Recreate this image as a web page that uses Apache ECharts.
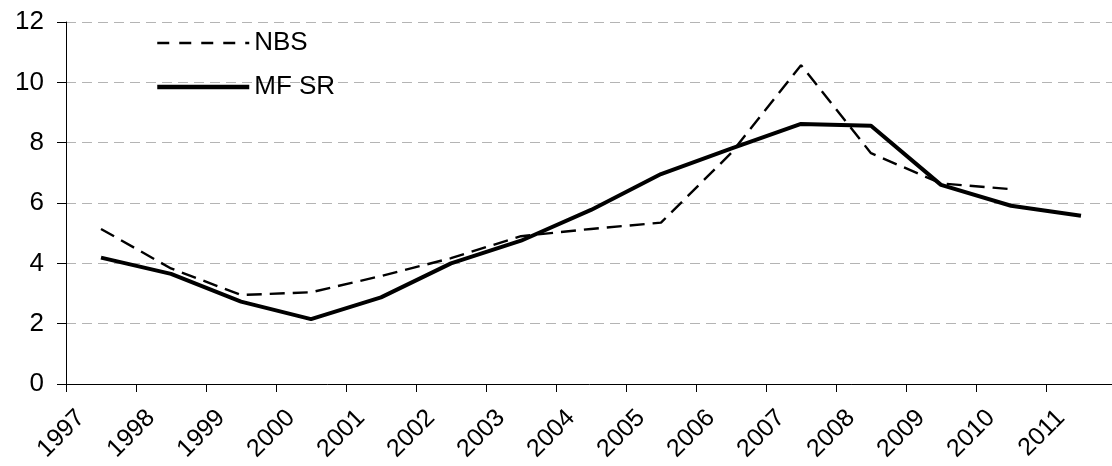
<!DOCTYPE html>
<html>
<head>
<meta charset="utf-8">
<script src="https://cdn.jsdelivr.net/npm/echarts@6/dist/echarts.min.js"></script>
<style>
html,body{margin:0;padding:0;background:#fff;}
#chart{width:1112px;height:466px;}
</style>
</head>
<body>
<div id="chart"></div>
<script>
var years = ['1997','1998','1999','2000','2001','2002','2003','2004','2005','2006','2007','2008','2009','2010','2011'];
var nbs  = [5.14, 3.83, 2.95, 3.04, 3.58, 4.17, 4.90, 5.14, 5.35, 7.65, 10.57, 7.65, 6.65, 6.46, null];
var mfsr = [4.19, 3.65, 2.73, 2.15, 2.87, 4.00, 4.75, 5.77, 6.96, 7.80, 8.62, 8.56, 6.60, 5.91, 5.58];
var yTicks = {min: 0, max: 12, interval: 2};

var FONT = "'Liberation Sans', Arial, sans-serif";
var chart = echarts.init(document.getElementById('chart'));
chart.setOption({
  animation: false,
  backgroundColor: '#fff',
  textStyle: {fontFamily: FONT},
  grid: [
    {left: 66, top: 22, width: 1050, height: 362, outerBoundsMode: 'none', containLabel: false},
    {left: 46, top: 22, width: 1050, height: 362, outerBoundsMode: 'none', containLabel: false}
  ],
  legend: {
    orient: 'vertical', left: 155, top: 30, padding: 0,
    itemWidth: 92, itemHeight: 2, itemGap: 18,
    itemStyle: {opacity: 0},
    textStyle: {fontSize: 26, color: '#000', fontFamily: FONT},
    data: [
      {name: 'NBS', lineStyle: {width: 2.4, color: '#000', type: [12, 10]}},
      {name: 'MF SR', lineStyle: {width: 4.5, color: '#000', type: 'solid'}}
    ]
  },
  xAxis: [
    {
      type: 'category', gridIndex: 0, data: years, boundaryGap: true,
      axisLine: {show: true, lineStyle: {color: '#000', width: 1}},
      axisTick: {show: true, length: 8, lineStyle: {color: '#000', width: 1}},
      axisLabel: {show: false},
      splitLine: {show: false}
    },
    {
      type: 'category', gridIndex: 1, data: years, boundaryGap: true,
      axisLine: {show: false}, axisTick: {show: false},
      axisLabel: {show: true, interval: 0, rotate: 45, margin: 30, fontSize: 25, color: '#000', fontFamily: FONT, hideOverlap: false},
      splitLine: {show: false}
    }
  ],
  yAxis: [
    {
      type: 'value', gridIndex: 0, min: yTicks.min, max: yTicks.max, interval: yTicks.interval,
      axisLine: {show: true, lineStyle: {color: '#000', width: 1}},
      axisTick: {show: true, length: 9, lineStyle: {color: '#000', width: 1}},
      axisLabel: {fontSize: 26, margin: 22, color: '#000', fontFamily: FONT},
      splitLine: {show: true, lineStyle: {color: '#b4b4b4', width: 1, type: [10, 6]}}
    },
    {type: 'value', gridIndex: 1, min: yTicks.min, max: yTicks.max, show: false}
  ],
  series: [
    {
      name: 'MF SR', type: 'line', xAxisIndex: 0, yAxisIndex: 0, data: mfsr,
      symbol: 'none', smooth: false,
      lineStyle: {color: '#000', width: 4},
      itemStyle: {color: '#000'}, z: 2
    },
    {
      name: 'NBS', type: 'line', xAxisIndex: 0, yAxisIndex: 0, data: nbs,
      symbol: 'none', smooth: false, connectNulls: false,
      lineStyle: {color: '#000', width: 2.4, type: [15, 8]},
      itemStyle: {color: '#000'}, z: 3
    }
  ]
});
</script>
</body>
</html>
